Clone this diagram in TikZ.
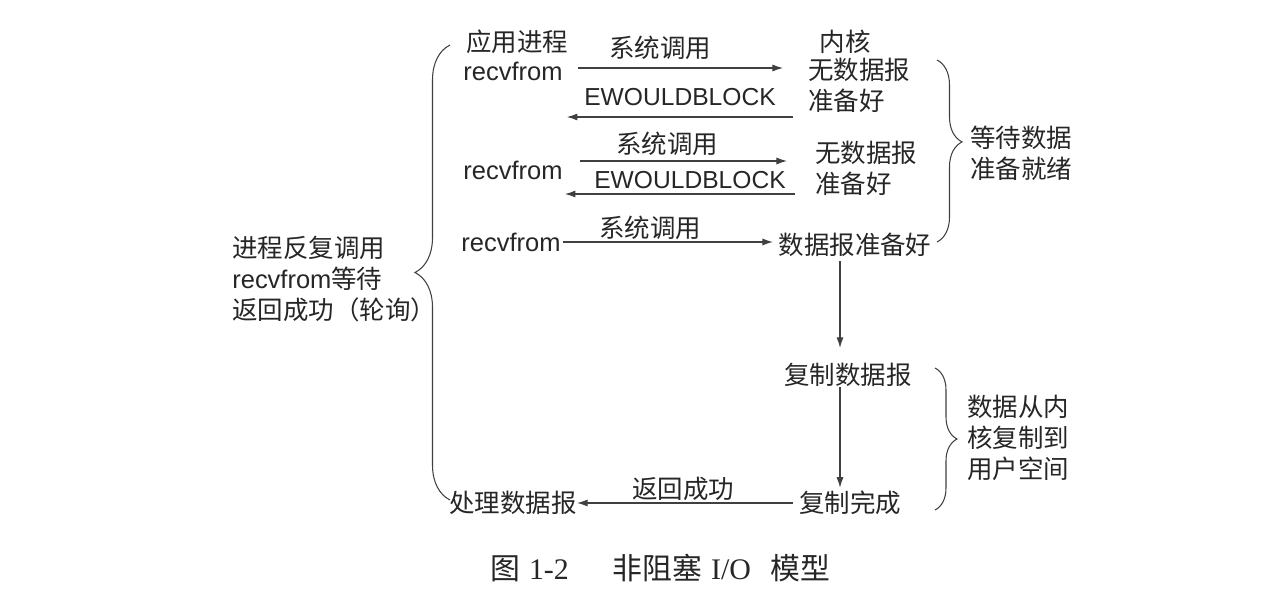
\documentclass[tikz,border=0pt]{standalone}
\usepackage{fontspec}
\setmainfont{Noto Sans CJK SC}
\newfontfamily\en{Liberation Sans}
\newfontfamily\enserif{Liberation Serif}
\usetikzlibrary{calc, arrows.meta, decorations.pathreplacing}

\tikzset{
  lbl/.style={inner sep=0pt, text=black!85, font=\fontsize{14.5}{17.5}\selectfont},
  arr/.style={draw=black!75, line width=0.6pt, -{Latex[length=6pt,width=4pt]}},
  brc/.style={draw=black!75, line width=0.6pt, decorate, decoration={brace, amplitude=#1}},
}

\begin{document}
\begin{tikzpicture}[x=0.2mm, y=-0.2mm]
\useasboundingbox (0,0) rectangle (1280,600);
% process side
\node[lbl] (app) at (517,42) {应用进程};
\node[lbl] (recv1) at (513,71) {\en recvfrom};
\node[lbl] (recv2) at (513,170) {\en recvfrom};
\node[lbl] (recv3) at (511,242) {\en recvfrom};
\node[lbl] (proc) at (513,503) {处理数据报};
\node[lbl, align=left, anchor=west] (poll) at (232,279) {进程反复调用\\{\en recvfrom}等待\\返回成功（轮询）};
% kernel side
\node[lbl] (kern) at (845,42) {内核};
\node[lbl, align=left, anchor=west] (k1) at (808,85) {无数据报\\准备好};
\node[lbl, align=left, anchor=west] (k2) at (815,168) {无数据报\\准备好};
\node[lbl] (ready) at (855,245) {数据报准备好};
\node[lbl] (copy) at (848,375) {复制数据报};
\node[lbl] (done) at (850,503) {复制完成};
% labels on the arrows
\node[lbl] (call1) at (660,48) {系统调用};
\node[lbl] (call2) at (667,144) {系统调用};
\node[lbl] (call3) at (650,228) {系统调用};
\node[lbl, font=\fontsize{14}{17}\selectfont\en] (e1) at (680,97) {EWOULDBLOCK};
\node[lbl, font=\fontsize{14}{17}\selectfont\en] (e2) at (690,180) {EWOULDBLOCK};
\node[lbl] (ret) at (683,489) {返回成功};
% notes on the right
\node[lbl, align=left, anchor=west] (wait) at (970,153) {等待数据\\准备就绪};
\node[lbl, align=left, anchor=west] (cpy) at (967,438) {数据从内\\核复制到\\用户空间};

% arrows
\draw[arr] ($(recv1.east)+(15,-3)$) -- ($(recv1.east-|k1.west)+(-25,-3)$);
\draw[arr] ($(k1.west)+(-15,32)$) -- ($(recv1.east|-k1.west)+(4,32)$);
\draw[arr] ($(recv2.east)+(17,-9)$) -- ($(recv2.east-|k2.west)+(-28,-9)$);
\draw[arr] ($(k2.west)+(-20,26)$) -- ($(recv2.east|-k2.west)+(2,26)$);
\draw[arr, shorten <=1pt, shorten >=3pt] (recv3.east) -- (recv3.east-|ready.west);
\draw[arr] ($(ready.south)+(-15,4)$) -- ($(copy.north)+(-8,-15)$);
\draw[arr] ($(copy.south)+(-8,0)$) -- ($(done.north)+(-10,-3)$);
\draw[arr, shorten <=3pt] (done.west) -- (proc.east);

% braces
\coordinate (pollTop) at (450,45);
\coordinate (pollBot) at (450,500);
\draw[brc=7mm] (pollBot) -- (pollTop);
\coordinate (waitTop) at (937,60);
\coordinate (waitBot) at (937,242);
\draw[brc=5mm, decoration={aspect=0.45}] (waitTop) -- (waitBot);
\coordinate (cpyTop) at (935,368);
\coordinate (cpyBot) at (935,510);
\draw[brc=4.4mm] (cpyTop) -- (cpyBot);

% caption
\node[lbl, anchor=west, font=\fontsize{17}{20}\selectfont] (cap) at (490,568) {图\hspace{5pt}{\enserif 1-2}\hspace{25pt}非阻塞\hspace{5pt}{\enserif I/O}\hspace{11pt}模型};
\end{tikzpicture}
\end{document}
